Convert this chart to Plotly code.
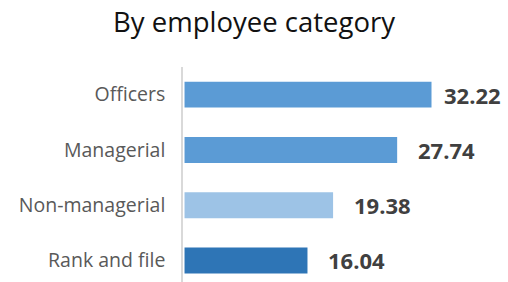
import plotly.graph_objects as go

categories = ["Rank and file", "Non-managerial", "Managerial", "Officers"]
values = [16.04, 19.38, 27.74, 32.22]
value_labels = ["16.04", "19.38", "27.74", "32.22"]

BAR_COLORS = ["#2E75B6", "#9DC3E6", "#5B9BD5", "#5B9BD5"]
FONT = "Open Sans"

W, H = 508, 282
ML, MT = 183, 67
X_RANGE = [-0.2, 42.2]
LABEL_GAP = 19
LABEL_W = 60
RIGHT_LIMIT = 502

fig = go.Figure()
fig.add_trace(go.Bar(
    x=values, y=categories, orientation="h",
    marker=dict(color=BAR_COLORS, line=dict(width=0)),
    width=0.47, hoverinfo="skip",
))

px_per_unit = (W - ML) / (X_RANGE[1] - X_RANGE[0])
for c, v, t in zip(categories, values, value_labels):
    end_px = ML + (v - X_RANGE[0]) * px_per_unit
    shift = LABEL_GAP
    if end_px + shift + LABEL_W > RIGHT_LIMIT:
        shift = max(8, RIGHT_LIMIT - LABEL_W - end_px)
    fig.add_annotation(x=v, y=c, text="<b>" + t + "</b>", showarrow=False,
                       xanchor="left", yanchor="middle", xshift=shift,
                       font=dict(family=FONT, size=22, color="#404040"))

fig.update_layout(
    width=W, height=H,
    margin=dict(l=ML, r=0, t=MT, b=0, pad=0, autoexpand=False),
    paper_bgcolor="white", plot_bgcolor="white",
    showlegend=False,
    title=dict(text="By employee category", x=0.5, xanchor="center",
               xref="container", y=0.922, yref="container", yanchor="middle",
               font=dict(family=FONT, size=27.5, color="#111111")),
    xaxis=dict(range=X_RANGE, visible=False, fixedrange=True,
               automargin=False),
    yaxis=dict(categoryorder="array", categoryarray=categories,
               range=[-0.39, 3.5], showline=True, linecolor="#D9D9D9",
               linewidth=1.5, showgrid=False, zeroline=False,
               ticks="", ticklabelstandoff=12, automargin=False,
               fixedrange=True,
               tickfont=dict(family=FONT, size=19.5, color="#595959")),
)

fig.write_html("out.html", config={"displayModeBar": False},
               post_script="document.body.style.margin='0';document.body.style.overflow='hidden';")
